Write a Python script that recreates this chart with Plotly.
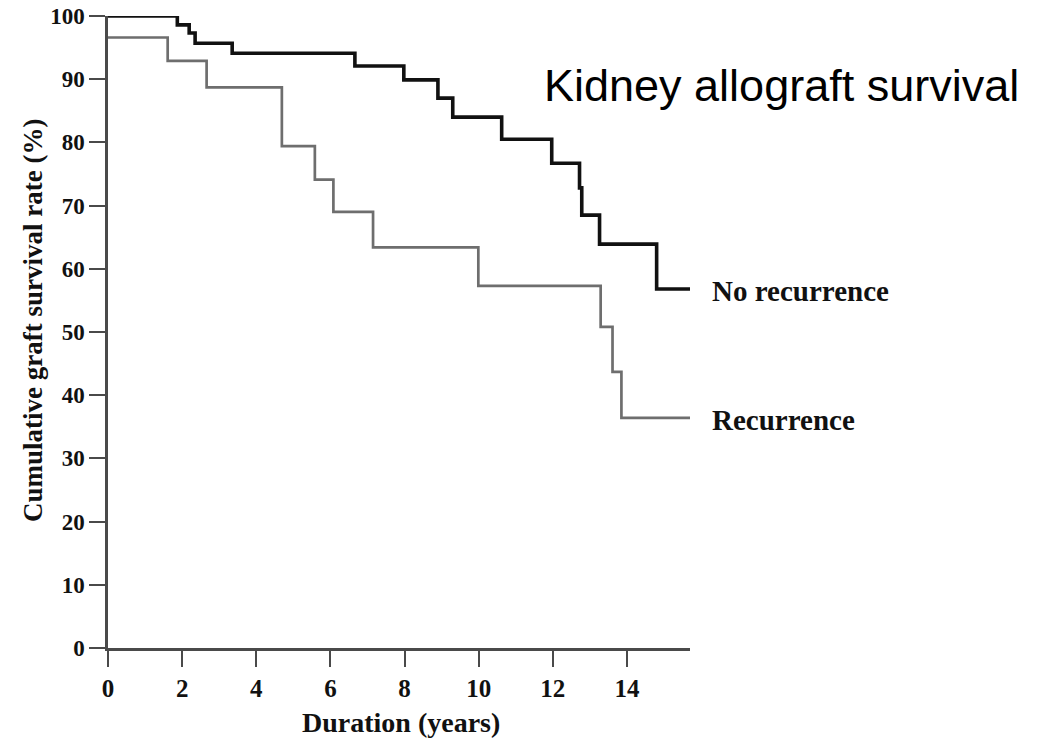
import plotly.graph_objects as go

# Kaplan-Meier step points: time (years) at which each survival level starts
no_rec_time = [0, 1.87, 2.19, 2.35, 3.35, 6.66, 7.98, 8.90, 9.30, 10.62, 11.97, 12.72, 12.78, 13.26, 14.80, 15.70]
no_rec_surv = [100, 98.6, 97.3, 95.7, 94.1, 92.1, 89.9, 87.0, 84.0, 80.5, 76.7, 72.8, 68.5, 63.9, 56.8, 56.8]

rec_time = [0, 1.61, 2.66, 4.69, 5.58, 6.08, 7.15, 9.99, 13.29, 13.61, 13.85, 15.70]
rec_surv = [96.6, 92.9, 88.7, 79.4, 74.1, 69.0, 63.4, 57.3, 50.8, 43.7, 36.4, 36.4]

x_ticks = [0, 2, 4, 6, 8, 10, 12, 14]
y_ticks = [0, 10, 20, 30, 40, 50, 60, 70, 80, 90, 100]

SERIF = "Liberation Serif, Times New Roman, serif"
SANS = "Liberation Sans, Arial, sans-serif"

X_MAX = 15.7

fig = go.Figure()
fig.add_trace(go.Scatter(
    x=rec_time, y=rec_surv, mode="lines", line_shape="hv",
    line=dict(color="#6e6e6e", width=2.7), cliponaxis=False,
    name="Recurrence", showlegend=False, hoverinfo="skip",
))
fig.add_trace(go.Scatter(
    x=no_rec_time, y=no_rec_surv, mode="lines", line_shape="hv",
    line=dict(color="#111111", width=3.6), cliponaxis=False,
    name="No recurrence", showlegend=False, hoverinfo="skip",
))

axis_common = dict(
    showgrid=False, zeroline=False, showline=True, automargin=False,
    linecolor="#4a4a4a", linewidth=2.5,
    ticks="outside", ticklen=16, tickwidth=2, tickcolor="#4a4a4a",
)

fig.update_xaxes(range=[0, X_MAX], tickvals=x_ticks, ticktext=[str(v) for v in x_ticks],
                 tickfont=dict(family=SERIF, size=25, color="#111111", weight="bold"),
                 **axis_common)
fig.update_yaxes(range=[0, 100], tickvals=y_ticks, ticktext=[str(v) for v in y_ticks],
                 tickfont=dict(family=SERIF, size=23, color="#111111", weight="bold"),
                 **axis_common)

# curve-end labels placed just right of the plotting area (paper x), at the final survival level (data y)
label_x = 1.0 + 0.55 / X_MAX

annotations = [
    dict(text="No recurrence", x=label_x, y=no_rec_surv[-1], xref="paper", yref="y",
         xanchor="left", yanchor="middle", yshift=-2, showarrow=False,
         font=dict(family=SERIF, size=29, color="#111111", weight="bold")),
    dict(text="Recurrence", x=label_x, y=rec_surv[-1], xref="paper", yref="y",
         xanchor="left", yanchor="middle", yshift=-2, showarrow=False,
         font=dict(family=SERIF, size=29, color="#111111", weight="bold")),
    dict(text="Kidney allograft survival", x=11.7, y=89.0, xref="x", yref="y",
         xanchor="left", yanchor="middle", showarrow=False,
         font=dict(family=SANS, size=45, color="#000000")),
    dict(text="Duration (years)", x=0.503, y=-0.118, xref="paper", yref="paper",
         xanchor="center", yanchor="middle", showarrow=False,
         font=dict(family=SERIF, size=28, color="#111111", weight="bold")),
    dict(text="Cumulative graft survival rate (%)", x=-0.129, y=0.519,
         xref="paper", yref="paper", textangle=-90,
         xanchor="center", yanchor="middle", showarrow=False,
         font=dict(family=SERIF, size=27, color="#111111", weight="bold")),
]

fig.update_layout(
    width=1053, height=741,
    margin=dict(l=108, r=363, t=16, b=93),
    paper_bgcolor="white", plot_bgcolor="white",
    annotations=annotations,
    showlegend=False,
)

fig.write_html("out.html")
